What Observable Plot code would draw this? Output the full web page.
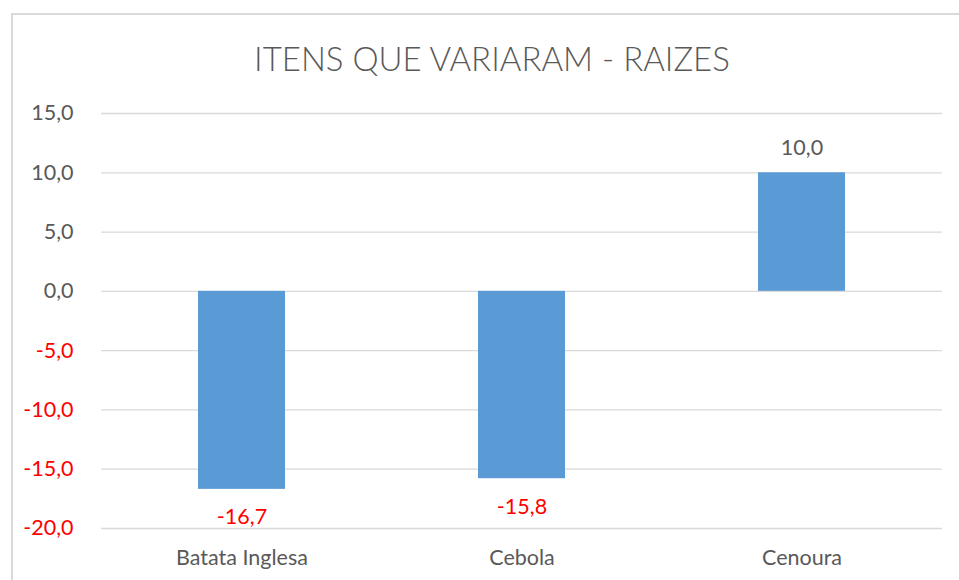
<!DOCTYPE html>
<html>
<head>
<meta charset="utf-8">
<script src="https://cdn.jsdelivr.net/npm/d3@7"></script>
<script src="https://cdn.jsdelivr.net/npm/@observablehq/plot@0.6"></script>
<style>
  html, body { margin: 0; padding: 0; background: #fff; overflow: hidden; }
  #wrap { position: relative; width: 959px; height: 580px; }
  #frame { position: absolute; left: 11px; top: 13px; width: 1000px; height: 700px;
           border-left: 2px solid #d9d9d9; border-top: 2px solid #d9d9d9; box-sizing: border-box; }
  #title { position: absolute; left: 0; width: 984px; top: 38px; text-align: center;
           font-family: Lato, sans-serif; font-weight: 300; font-size: 33px; color: #595959; }
  #chart { position: absolute; left: 0; top: 0; }
</style>
</head>
<body>
<div id="wrap">
  <div id="frame"></div>
  <div id="title">ITENS QUE VARIARAM - RAIZES</div>
  <div id="chart"></div>
</div>
<script>
const categories = ["Batata Inglesa", "Cebola", "Cenoura"];
const values = [-16.7, -15.8, 10.0];
const yTicks = [15, 10, 5, 0, -5, -10, -15, -20];

const data = categories.map((c, i) => ({cat: c, value: values[i]}));
const fmt = v => v.toFixed(1).replace(".", ",");
const grey = "#595959";
const red = "#ff0000";

const plot = Plot.plot({
  width: 959,
  height: 580,
  marginTop: 113,
  marginBottom: 52,
  marginLeft: 101,
  marginRight: 17,
  style: {fontFamily: "Lato, sans-serif", fontSize: "21.5px", background: "transparent"},
  x: {domain: categories, paddingInner: 0.69, paddingOuter: 0.345, axis: null},
  y: {domain: [-20, 15], axis: null},
  marks: [
    Plot.ruleY(yTicks, {stroke: "#d9d9d9", strokeWidth: 1.3}),
    Plot.barY(data, {x: "cat", y: "value", fill: "#5b9bd5"}),
    Plot.text(yTicks, {y: d => d, frameAnchor: "left", dx: -28, textAnchor: "end",
      text: d => fmt(d), fill: d => d < 0 ? red : grey}),
    Plot.text(categories, {x: d => d, frameAnchor: "bottom", lineAnchor: "middle", dy: 30, text: d => d, fill: grey}),
    Plot.text(data.filter(d => d.value >= 0), {x: "cat", y: "value", dy: -25, text: d => fmt(d.value), fill: grey}),
    Plot.text(data.filter(d => d.value < 0), {x: "cat", y: "value", dy: 28, text: d => fmt(d.value), fill: red})
  ]
});
document.getElementById("chart").appendChild(plot);
</script>
</body>
</html>
